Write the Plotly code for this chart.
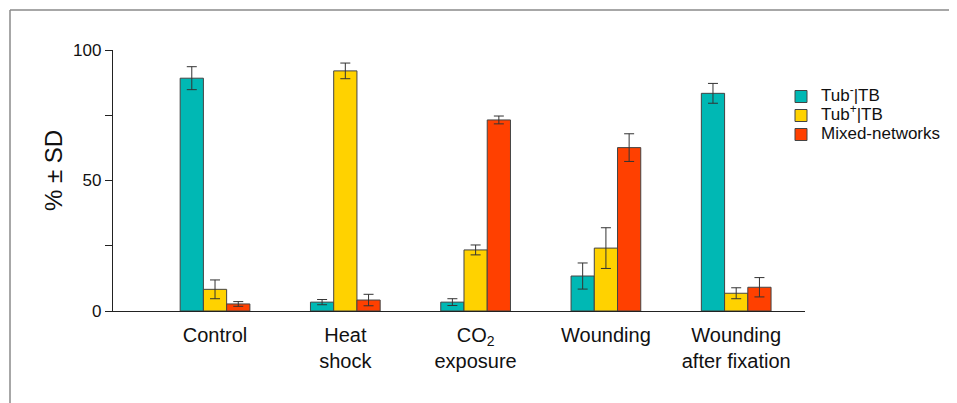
import plotly.graph_objects as go

categories = ["Control", "Heat<br>shock", "CO<sub>2</sub><br>exposure", "Wounding", "Wounding<br>after fixation"]
series_names = ["Tub<sup>-</sup>|TB", "Tub<sup>+</sup>|TB", "Mixed-networks"]
tub_minus = [89.2, 3.4, 3.4, 13.4, 83.4]
tub_minus_sd = [4.4, 1.0, 1.3, 5.0, 3.8]
tub_plus = [8.3, 92.0, 23.4, 24.1, 6.8]
tub_plus_sd = [3.6, 3.0, 1.9, 7.8, 2.1]
mixed = [2.7, 4.2, 73.2, 62.6, 9.1]
mixed_sd = [0.9, 2.2, 1.5, 5.3, 3.7]
colors = ["#00B8B4", "#FFD200", "#FF4000"]
y_ticks = [0, 25, 50, 75, 100]
y_ticktext = ["0", "", "50", "", "100"]

values = [tub_minus, tub_plus, mixed]
sds = [tub_minus_sd, tub_plus_sd, mixed_sd]

fig = go.Figure()
xs = list(range(len(categories)))
for name, vals, sd, col in zip(series_names, values, sds, colors):
    fig.add_trace(go.Bar(
        x=xs, y=vals, name='<span style="font-size:17px">' + name + '</span>',
        marker=dict(color=col, line=dict(color="#444444", width=1)),
        error_y=dict(type="data", array=sd, visible=True, color="#333333", thickness=1, width=5),
    ))

# page has an 8px body margin; positions below are screen pixels of the window
OFF = 8
W, H = 957, 403
L, R, T, B = 113 - OFF, 957 - (805 - OFF), 50 - OFF, 403 - (311 - OFF)
pw, ph = W - L - R, H - T - B

def px(x):
    return (x - OFF - L) / pw

def py(y):
    return (H - B - (y - OFF)) / ph

fig.update_layout(
    width=W, height=H,
    margin=dict(l=L, r=R, t=T, b=B),
    paper_bgcolor="white", plot_bgcolor="white",
    barmode="group", bargap=0.465, bargroupgap=0,
    font=dict(family="Liberation Sans, Arial, sans-serif", color="#111111"),
    showlegend=True,
    legend=dict(x=px(781), y=py(82), xanchor="left", yanchor="top",
                font=dict(size=12, color="#111111"), bgcolor="rgba(0,0,0,0)",
                tracegroupgap=0),
    xaxis=dict(range=[-0.783, 4.528], tickvals=xs, ticktext=categories,
               showline=True, linecolor="#222222", linewidth=1.3,
               ticks="outside", ticklen=6, tickcolor="rgba(0,0,0,0)",
               tickfont=dict(size=20, color="#111111"), showgrid=False, zeroline=False),
    yaxis=dict(range=[0, 100], tickvals=y_ticks, ticktext=y_ticktext,
               showline=True, linecolor="#222222", linewidth=1.3,
               ticks="outside", ticklen=7, tickcolor="#222222", tickwidth=1.3,
               tickfont=dict(size=17, color="#111111"), showgrid=False, zeroline=False),
    annotations=[dict(text="% ± SD", xref="paper", yref="paper", x=px(53), y=py(171),
                      xanchor="center", yanchor="middle", textangle=-90, showarrow=False,
                      font=dict(size=24, color="#111111"))],
    shapes=[
        dict(type="line", xref="paper", yref="paper", x0=px(10), x1=px(975), y0=py(10), y1=py(10),
             line=dict(color="#8a8a8a", width=1.5)),
        dict(type="line", xref="paper", yref="paper", x0=px(10), x1=px(10), y0=py(10), y1=py(420),
             line=dict(color="#8a8a8a", width=1.5)),
    ],
)

fig.write_html("out.html")
